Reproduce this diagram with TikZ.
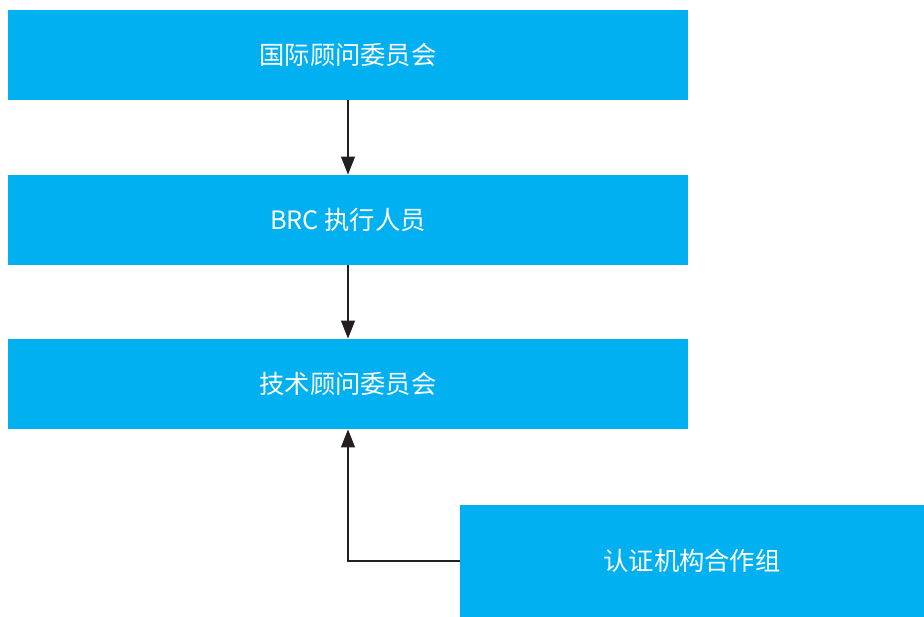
\documentclass[tikz,border=0pt]{standalone}
\usepackage{fontspec}
\usepackage{tikz}
\usetikzlibrary{arrows.meta, positioning}
\setmainfont{Noto Sans CJK SC}
\definecolor{boxblue}{RGB}{0, 176, 240}
\definecolor{linedark}{RGB}{35, 31, 32}

\tikzset{
    orgbox/.style={fill=boxblue, text=white, font=\fontsize{18}{21}\selectfont, inner sep=0pt},
    orgarrow/.style={draw=linedark, line width=1.5pt, -{Triangle[length=4.5mm, width=3.4mm]}}
}

\begin{document}
\begin{tikzpicture}
    % Canvas
    \useasboundingbox (0, 0) rectangle (23.1, -15.425);
    
    % Boxes
    \node[orgbox, minimum width=17cm, minimum height=2.25cm] (iac) at (8.7, -1.375) {国际顾问委员会};
    \node[orgbox, minimum width=17cm, minimum height=2.25cm] (brc) at (8.7, -5.5) {BRC 执行人员};
    \node[orgbox, minimum width=17cm, minimum height=2.25cm] (tac) at (8.7, -9.6) {技术顾问委员会};
    \node[orgbox, minimum width=11.6cm, minimum height=2.8cm] (cbwg) at (17.3, -14.025) {认证机构合作组};
    
    % Arrows
    \draw[orgarrow] (iac.south) -- (brc.north);
    \draw[orgarrow] (brc.south) -- (tac.north);
    \draw[orgarrow] (cbwg.west) -| (tac.south);
\end{tikzpicture}
\end{document}
